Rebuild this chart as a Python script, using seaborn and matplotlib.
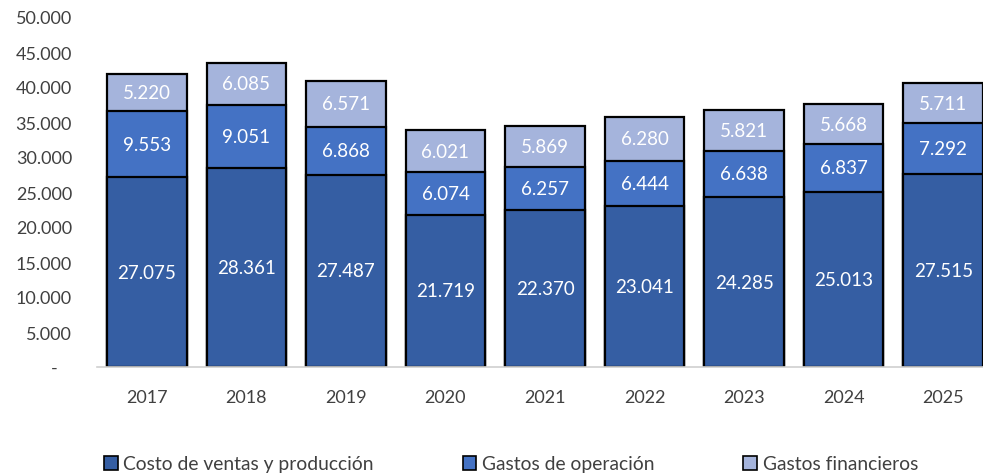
import matplotlib
matplotlib.use("Agg")
import matplotlib.pyplot as plt
from matplotlib.patches import Patch
import seaborn as sns
import numpy as np

years = ["2017", "2018", "2019", "2020", "2021", "2022", "2023", "2024", "2025"]
costo = [27075, 28361, 27487, 21719, 22370, 23041, 24285, 25013, 27515]
operacion = [9553, 9051, 6868, 6074, 6257, 6444, 6638, 6837, 7292]
financieros = [5220, 6085, 6571, 6021, 5869, 6280, 5821, 5668, 5711]
series_names = ["Costo de ventas y producción", "Gastos de operación", "Gastos financieros"]
colors = ["#355EA3", "#4472C4", "#A5B4DC"]

sns.set_style("white")
plt.rcParams["font.family"] = ["Lato", "DejaVu Sans"]

fig = plt.figure(figsize=(9.83, 4.77), dpi=100)
ax = fig.add_axes([97 / 983, 109 / 477, 896 / 983, 350 / 477])

c = np.array(costo)
o = np.array(operacion)
f = np.array(financieros)
# stacked look: draw the totals first, then the lower parts on top
layers = [c + o + f, c + o, c]
for vals, col in zip(layers, colors[::-1]):
    sns.barplot(x=years, y=vals, color=col, saturation=1, width=0.8,
                edgecolor="black", linewidth=1.6, ax=ax)

def fmt(v):
    return f"{v:,}".replace(",", ".")

for i in range(len(years)):
    ax.text(i, c[i] / 2, fmt(costo[i]), ha="center", va="center", color="white", fontsize=13.5)
    ax.text(i, c[i] + o[i] / 2, fmt(operacion[i]), ha="center", va="center", color="white", fontsize=13.5)
    ax.text(i, c[i] + o[i] + f[i] / 2, fmt(financieros[i]), ha="center", va="center", color="white", fontsize=13.5)

ax.set_xlim(-0.5, len(years) - 0.5)
ax.set_ylim(0, 50000)
yt = np.arange(0, 50001, 5000)
ax.set_yticks(yt)
ax.set_yticklabels(["-   "] + [fmt(int(v)) for v in yt[1:]])
ax.tick_params(axis="both", length=0, labelsize=13, colors="#404040")
ax.tick_params(axis="x", pad=16)
ax.tick_params(axis="y", pad=18)
for s in ["top", "right", "left"]:
    ax.spines[s].set_visible(False)
ax.spines["bottom"].set_color("#D0D0D0")
ax.spines["bottom"].set_linewidth(1.2)
ax.set_xlabel("")
ax.set_ylabel("")

handles = [Patch(facecolor=col, edgecolor="black", linewidth=1.2) for col in colors]
fig.legend(handles, series_names, loc="center left", bbox_to_anchor=(104 / 983, 1 - 465 / 477),
           ncol=3, frameon=False, fontsize=13.9, handlelength=0.7, handleheight=0.7,
           handletextpad=0.3, columnspacing=4.6, labelcolor="#404040", borderaxespad=0, borderpad=0)

fig.savefig("out.png", dpi=100)
